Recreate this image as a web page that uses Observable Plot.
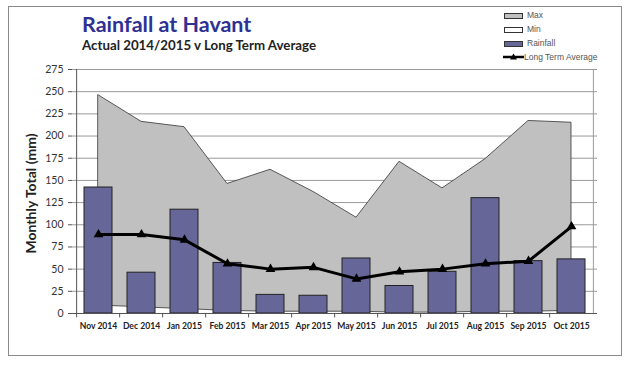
<!DOCTYPE html>
<html>
<head>
<meta charset="utf-8">
<script src="https://cdn.jsdelivr.net/npm/d3@7"></script>
<script src="https://cdn.jsdelivr.net/npm/@observablehq/plot@0.6"></script>
<style>
  html, body { margin: 0; padding: 0; background: #fff; }
  #wrap { position: relative; width: 626px; height: 367px; overflow: hidden; }
  #frame { position: absolute; left: 8px; top: 6px; width: 614px; height: 350px; border: 1px solid #8a8a8a; box-sizing: border-box; }
  #title { position: absolute; left: 82px; top: 14px; font-family: Lato, sans-serif; font-weight: 700; font-size: 21.5px; color: #2E3192; white-space: nowrap; line-height: 1; }
  #subtitle { position: absolute; left: 82px; top: 39px; font-family: Lato, sans-serif; font-weight: 700; font-size: 13.3px; color: #222; white-space: nowrap; line-height: 1; }
  #legend { position: absolute; left: 503px; top: 11px; font-family: "Liberation Sans", Arial, sans-serif; font-size: 8.5px; color: #555; }
  .li { position: relative; height: 14px; }
  .sw { position: absolute; left: 1px; top: 2px; width: 17px; height: 4px; border: 1px solid #333; }
  .lt { position: absolute; left: 24px; top: -1px; white-space: nowrap; }
  svg.plot { position: absolute; left: 0; top: 0; }
</style>
</head>
<body>
<div id="wrap">
  <div id="frame"></div>
  <div id="title">Rainfall at Havant</div>
  <div id="subtitle">Actual 2014/2015 v Long Term Average</div>
  <div id="legend"></div>
</div>
<script>
const months = ["Nov 2014","Dec 2014","Jan 2015","Feb 2015","Mar 2015","Apr 2015","May 2015","Jun 2015","Jul 2015","Aug 2015","Sep 2015","Oct 2015"];
const maxValues = [246, 216, 210, 146, 162, 137, 108, 171, 141, 174, 217, 215];
const minValues = [9, 7, 5, 3, 2, 2, 2, 1, 1, 2, 2, 3];
const rainfall = [142, 46, 117, 57, 21, 20, 62, 31, 47, 130, 59, 61];
const longTermAverage = [89, 89, 83, 56, 50, 52, 39, 47, 50, 56, 59, 98];
const yTicks = [0, 25, 50, 75, 100, 125, 150, 175, 200, 225, 250, 275];
const legendItems = [
  {label: "Max", fill: "#c0c0c0"},
  {label: "Min", fill: "#ffffff"},
  {label: "Rainfall", fill: "#666699"},
  {label: "Long Term Average", line: true}
];

const data = months.map((m, i) => ({
  month: m, max: maxValues[i], min: minValues[i], rain: rainfall[i], lta: longTermAverage[i]
}));

const width = 626, height = 367;
const mL = 72, mR = 29;
const step = (width - mL - mR) / months.length;

const chart = Plot.plot({
  width, height,
  marginLeft: mL, marginRight: mR, marginTop: 69, marginBottom: 54,
  style: {background: "transparent", overflow: "visible"},
  x: {type: "band", domain: months, paddingInner: 0.34, paddingOuter: 0.17, label: null},
  y: {type: "linear", domain: [0, 275], label: null},
  marks: [
    Plot.gridY(yTicks, {stroke: "#9a9a9a", strokeOpacity: 1, strokeWidth: 1}),
    Plot.ruleX([months[months.length - 1]], {dx: step / 2, stroke: "#9a9a9a", y1: 0, y2: 275}),
    Plot.areaY(data, {x: "month", y1: "min", y2: "max", fill: "#c0c0c0", stroke: "#333", strokeWidth: 0.8, curve: "linear"}),
    Plot.barY(data, {x: "month", y: "rain", fill: "#666699", stroke: "#222", strokeWidth: 1}),
    Plot.lineY(data, {x: "month", y: "lta", stroke: "#000", strokeWidth: 3}),
    Plot.dot(data, {x: "month", y: "lta", symbol: "triangle", r: 3.6, fill: "#000"}),
    Plot.ruleY([0], {stroke: "#555", strokeWidth: 1}),
    Plot.ruleX([months[0]], {dx: -step / 2, stroke: "#555", y1: 0, y2: 275}),
    Plot.ruleX(months, {x: d => d, dx: -step / 2, y1: 0, y2: -5, stroke: "#555"}),
    Plot.axisY(yTicks, {tickSize: 4, tickPadding: 5, fontSize: 10.5, fontFamily: "Lato, sans-serif", color: "#333", stroke: "#555", label: null}),
    Plot.axisX({tickSize: 0, tickPadding: 9, fontSize: 8.6, fontWeight: "bold", fontFamily: "Lato, sans-serif", color: "#222", label: null}),
    Plot.text(["Monthly Total (mm)"], {frameAnchor: "left", textAnchor: "middle", dx: -41, dy: 2, rotate: -90, fontSize: 14, fontWeight: "bold", fontFamily: "Lato, sans-serif", fill: "#222"})
  ]
});

document.getElementById("wrap").appendChild(chart);

const legend = d3.select("#legend");
legendItems.forEach(it => {
  const row = legend.append("div").attr("class", "li");
  if (it.line) {
    const s = row.append("svg").attr("width", 22).attr("height", 10).style("position", "absolute").style("left", "0px").style("top", "-1px");
    s.append("line").attr("x1", 0).attr("x2", 21).attr("y1", 5).attr("y2", 5).attr("stroke", "#000").attr("stroke-width", 2.5);
    s.append("path").attr("d", "M10.5,1.5 L14,7.5 L7,7.5 Z").attr("fill", "#000");
    row.append("span").attr("class", "lt").style("left", "21px").text(it.label);
  } else {
    row.append("div").attr("class", "sw").style("background", it.fill);
    row.append("span").attr("class", "lt").text(it.label);
  }
});
</script>
</body>
</html>
